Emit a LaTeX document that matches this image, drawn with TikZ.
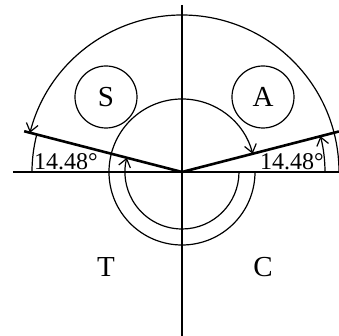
\documentclass[tikz,border=0pt]{standalone}
\usepackage{fontspec}
\setmainfont{Liberation Serif}
\usetikzlibrary{arrows.meta}

\tikzset{
  thin line/.style={line width=0.6pt},
  ray/.style={line width=1.3pt},
  turn/.style={line width=0.6pt, -{Straight Barb[length=4pt,width=6pt]}},
  ring/.style={draw, circle, line width=0.6pt, minimum size=31pt, inner sep=0pt,
    font=\fontsize{14.5}{16}\selectfont},
  angle label/.style={font=\fontsize{12}{14}\selectfont, inner sep=0pt},
  side label/.style={font=\fontsize{14.5}{16}\selectfont, inner sep=0pt}
}

\begin{document}
\begin{tikzpicture}[x=0.5pt, y=0.5pt]
		\useasboundingbox (-182,-164) rectangle (157,172);
		
		% Axes
		\coordinate (O) at (0,0);
		\coordinate (xl) at (-169,0);
		\coordinate (xr) at (157,0);
		\coordinate (yt) at (0,167);
		\coordinate (yb) at (0,-164);
		\draw[thin line] (xl) -- (xr);
		\draw[thin line] (yt) -- (yb);
		
		% Rays
		\coordinate (L) at (165.52:163);
		\coordinate (R) at (14.48:162);
		\draw[ray] (O) -- (L);
		\draw[ray] (O) -- (R);
		
		% Circles
		\node[ring] (S) at (-76,75) {S};
		\node[ring] (A) at (81,75) {A};
		
		% Turning arcs
		\coordinate (big) at (157,0);
		\coordinate (outer) at (73,0);
		\coordinate (inner) at (57,0);
		\draw[turn] (big) arc[start angle=0, end angle=165.52, radius=157];
		\draw[turn] (outer) arc[start angle=0, end angle=-345.52, radius=73];
		\draw[turn] (inner) arc[start angle=0, end angle=-194.48, radius=57];
		
		% Angle marks
		\coordinate (ml) at (-150,0);
		\coordinate (mr) at (143,0);
		\draw[thin line] (ml) arc[start angle=180, end angle=165.52, radius=150];
		\draw[turn] (mr) arc[start angle=0, end angle=14.48, radius=143];
		\node[angle label] (al) at (-116,10) {14.48°};
		\node[angle label] (ar) at (110,10) {14.48°};
		
		% Labels
		\node[side label] (T) at (-76,-95) {T};
		\node[side label] (C) at (81,-95) {C};
	\end{tikzpicture}
\end{document}
